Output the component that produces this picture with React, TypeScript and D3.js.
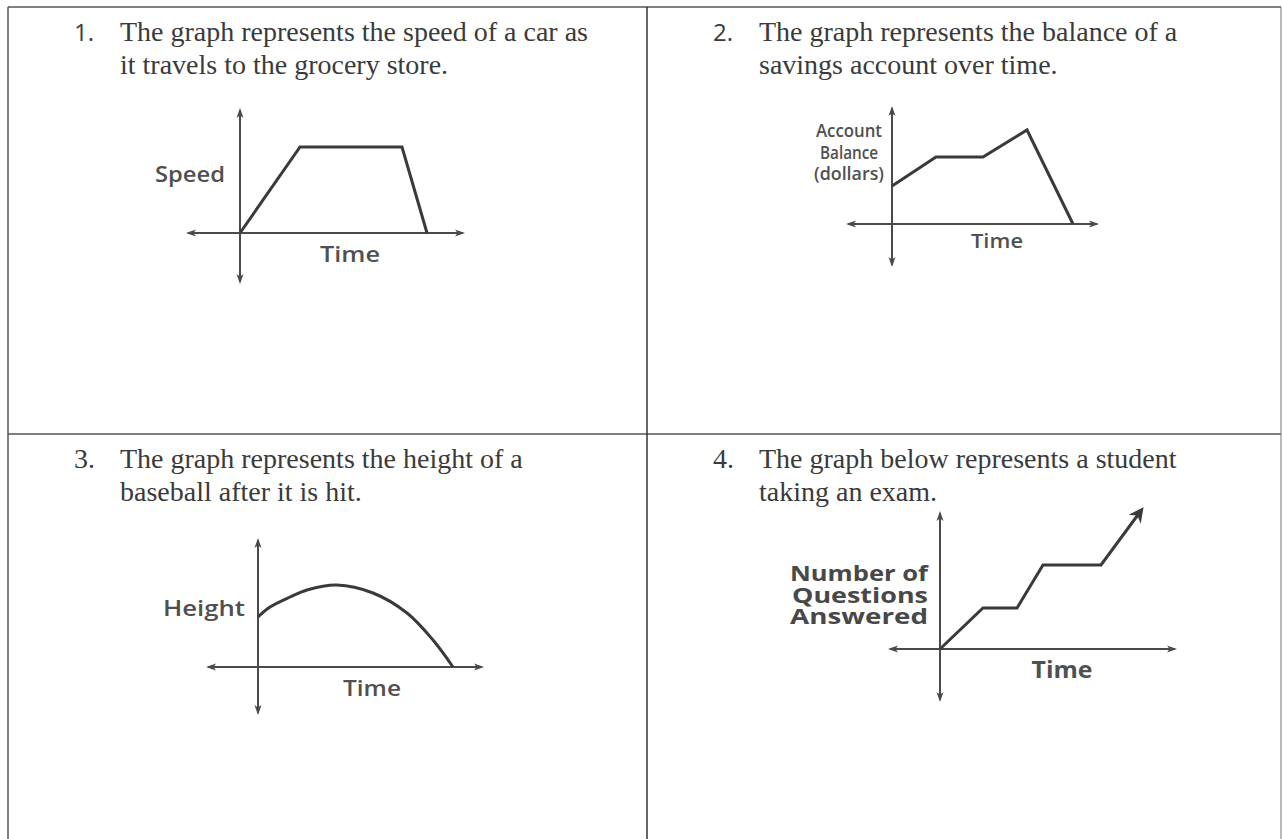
import React from "react";
import * as d3 from "d3";

// ---- Text content ----
const cellNumbers = ["1.", "2.", "3.", "4."];
const cellLines = [
  ["The graph represents the speed of a car as", "it travels to the grocery store."],
  ["The graph represents the balance of a", "savings account over time."],
  ["The graph represents the height of a", "baseball after it is hit."],
  ["The graph below represents a student", "taking an exam."],
];

// ---- Axis labels ----
const yLabels = [["Speed"], ["Account", "Balance", "(dollars)"], ["Height"], ["Number of", "Questions", "Answered"]];
const xLabel = "Time";

// ---- Series (abstract units: time vs quantity) ----
const speedTime = [0, 6, 16.2, 18.7];
const speedValue = [0, 8.6, 8.6, 0];

const balanceTime = [0, 4.4, 9.1, 13.5, 18.1];
const balanceValue = [3.8, 6.7, 6.7, 9.4, 0];

const heightTime = [0, 1.2, 3.2, 4.9, 7.9, 11.5, 14.9, 17.5, 19.5];
const heightValue = [5.0, 6.0, 7.0, 7.7, 8.2, 7.4, 5.4, 2.7, 0];

const examTime = [0, 4.3, 7.7, 10.3, 16.1, 20];
const examValue = [0, 4.1, 4.1, 8.4, 8.4, 13.7];

// ---- layout ----
type PanelCfg = {
  ox: number; oy: number; k: number;
  xNeg: number; xPos: number; yPos: number; yNeg: number;
  xs: number[]; ys: number[]; curved?: boolean; arrowEnd?: boolean;
  labels: string[]; labelWidths: number[]; labelX: number; labelY0: number; labelDy: number; labelSize: number;
  labelAnchor: "start" | "middle" | "end"; labelWeight: number; labelColor: string;
  timeX: number; timeY: number; timeSize: number; timeWeight: number; timeWidth: number;
};

const panels: PanelCfg[] = [
  {
    ox: 240, oy: 233, k: 10, xNeg: 5.2, xPos: 22.3, yPos: 12.3, yNeg: 4.9,
    xs: speedTime, ys: speedValue,
    labels: yLabels[0], labelWidths: [70], labelX: 225, labelY0: 182, labelDy: 0, labelSize: 22,
    labelAnchor: "end", labelWeight: 600, labelColor: "#505050",
    timeX: 350, timeY: 262, timeSize: 21, timeWeight: 600, timeWidth: 60,
  },
  {
    ox: 892, oy: 224, k: 10, xNeg: 4.4, xPos: 20.5, yPos: 11.6, yNeg: 4.1,
    xs: balanceTime, ys: balanceValue,
    labels: yLabels[1], labelWidths: [66, 58, 70], labelX: 849, labelY0: 137, labelDy: 21.5, labelSize: 18,
    labelAnchor: "middle", labelWeight: 600, labelColor: "#505050",
    timeX: 997, timeY: 248, timeSize: 19, timeWeight: 600, timeWidth: 52,
  },
  {
    ox: 258, oy: 667, k: 10, xNeg: 5, xPos: 22.4, yPos: 12.7, yNeg: 4.6,
    xs: heightTime, ys: heightValue, curved: true,
    labels: yLabels[2], labelWidths: [82], labelX: 245, labelY0: 616, labelDy: 0, labelSize: 22,
    labelAnchor: "end", labelWeight: 600, labelColor: "#505050",
    timeX: 372, timeY: 696, timeSize: 21, timeWeight: 600, timeWidth: 58,
  },
  {
    ox: 940, oy: 649, k: 10, xNeg: 5, xPos: 23.5, yPos: 13.6, yNeg: 5.1,
    xs: examTime, ys: examValue, arrowEnd: true,
    labels: yLabels[3], labelWidths: [138, 136, 138], labelX: 928, labelY0: 581, labelDy: 21.5, labelSize: 21,
    labelAnchor: "end", labelWeight: 700, labelColor: "#484848",
    timeX: 1062, timeY: 678, timeSize: 23, timeWeight: 700, timeWidth: 61,
  },
];

const cellOrigins = [
  { x: 8, y: 7 },
  { x: 647, y: 7 },
  { x: 8, y: 434 },
  { x: 647, y: 434 },
];

const sans = "'Open Sans', 'Noto Sans', sans-serif";
const serif = "'Liberation Serif', 'Times New Roman', serif";

function Panel({ p, id }: { p: PanelCfg; id: number }) {
  const x = d3.scaleLinear().domain([0, 1]).range([p.ox, p.ox + p.k]);
  const y = d3.scaleLinear().domain([0, 1]).range([p.oy, p.oy - p.k]);
  const pts: [number, number][] = p.xs.map((v, i) => [v, p.ys[i]]);
  const line = d3
    .line<[number, number]>()
    .x((d) => x(d[0]))
    .y((d) => y(d[1]))
    .curve(p.curved ? d3.curveCatmullRom.alpha(0.5) : d3.curveLinear);
  const axisColor = "#4a4a4a";
  return (
    <g>
      <line x1={x(-p.xNeg)} x2={x(p.xPos)} y1={y(0)} y2={y(0)} stroke={axisColor} strokeWidth={2}
        markerStart={`url(#ax${id})`} markerEnd={`url(#ax${id})`} />
      <line x1={x(0)} x2={x(0)} y1={y(-p.yNeg)} y2={y(p.yPos)} stroke={axisColor} strokeWidth={2}
        markerStart={`url(#ax${id})`} markerEnd={`url(#ax${id})`} />
      <path d={line(pts) || ""} fill="none" stroke="#3a3a3a" strokeWidth={3} strokeLinejoin="miter"
        markerEnd={p.arrowEnd ? "url(#bigArrow)" : undefined} />
      {p.labels.map((t, i) => (
        <text key={i} x={p.labelX} y={p.labelY0 + i * p.labelDy} fontFamily={sans} fontSize={p.labelSize}
          fontWeight={p.labelWeight} fill={p.labelColor} textAnchor={p.labelAnchor}
          textLength={p.labelWidths[i]} lengthAdjust="spacingAndGlyphs">{t}</text>
      ))}
      <text x={p.timeX} y={p.timeY} fontFamily={sans} fontSize={p.timeSize} fontWeight={p.timeWeight}
        fill="#505050" textAnchor="middle" textLength={p.timeWidth} lengthAdjust="spacingAndGlyphs">{xLabel}</text>
    </g>
  );
}

export default function App() {
  return (
    <svg width={1283} height={839} style={{ position: "absolute", left: 0, top: 0, background: "#fff" }}>
      <defs>
        {panels.map((_, i) => (
          <marker key={i} id={`ax${i}`} viewBox="0 0 10 10" refX={8} refY={5} markerWidth={5} markerHeight={5}
            orient="auto-start-reverse" markerUnits="strokeWidth">
            <path d="M0,1.5 L10,5 L0,8.5 L2.5,5 Z" fill="#4a4a4a" />
          </marker>
        ))}
        <marker id="bigArrow" viewBox="0 0 10 10" refX={6} refY={5} markerWidth={5.5} markerHeight={5}
          orient="auto" markerUnits="strokeWidth">
          <path d="M0,0 L10,5 L0,10 L3,5 Z" fill="#3a3a3a" />
        </marker>
      </defs>
      {/* table borders */}
      <line x1={8} x2={1281} y1={7} y2={7} stroke="#555" strokeWidth={1.5} />
      <line x1={8} x2={1281} y1={434} y2={434} stroke="#555" strokeWidth={1.5} />
      <line x1={8} x2={8} y1={7} y2={839} stroke="#555" strokeWidth={1.5} />
      <line x1={647} x2={647} y1={7} y2={839} stroke="#333" strokeWidth={1.5} />
      <line x1={1281} x2={1281} y1={7} y2={839} stroke="#777" strokeWidth={1} />

      {cellOrigins.map((c, i) => (
        <g key={i}>
          <text x={c.x + 66} y={c.y + 34} fontFamily={i < 2 ? sans : serif} fontSize={i < 2 ? 24 : 28}
            fill="#3a3a3a">{cellNumbers[i]}</text>
          {cellLines[i].map((t, j) => (
            <text key={j} x={c.x + 112} y={c.y + 34 + j * 33} fontFamily={serif} fontSize={28}
              fill="#3a3a3a">{t}</text>
          ))}
        </g>
      ))}

      {panels.map((p, i) => (
        <Panel key={i} p={p} id={i} />
      ))}
    </svg>
  );
}
